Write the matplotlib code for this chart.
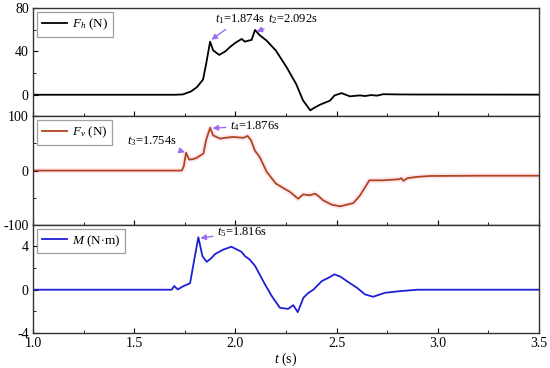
import matplotlib
matplotlib.use("Agg")
import matplotlib.pyplot as plt
from matplotlib.ticker import MultipleLocator

plt.rcParams["font.family"] = ["Liberation Serif", "DejaVu Serif"]
plt.rcParams["mathtext.fontset"] = "custom"
plt.rcParams["mathtext.rm"] = "Liberation Serif"
plt.rcParams["mathtext.it"] = "Liberation Serif:italic"
plt.rcParams["font.size"] = 10
plt.rcParams["axes.unicode_minus"] = False

# horizontal force F_h (N)
t_fh = [1.0, 1.70, 1.74, 1.78, 1.81, 1.84, 1.855, 1.875, 1.89, 1.92, 1.95, 1.973,
        2.0, 2.031, 2.047, 2.065, 2.08, 2.097, 2.12, 2.154, 2.2, 2.253, 2.30,
        2.334, 2.37, 2.39, 2.418, 2.44, 2.467, 2.49, 2.525, 2.545, 2.566, 2.59,
        2.616, 2.64, 2.67, 2.70, 2.73, 2.80, 2.9, 3.0, 3.5]
fh = [0, 0, 0.3, 3, 7, 14, 28, 49, 41, 36.8, 40, 44,
      48, 51.5, 49, 50, 50.6, 59.8, 55, 50, 40.8, 25.4, 10,
      -5.2, -14.4, -12, -9.2, -7.5, -5.5, -0.6, 1.5, 0, -1.5, -1.0,
      -0.6, -1.2, -0.3, -0.8, 0.5, 0.3, 0.2, 0.2, 0.1]

# vertical force F_v (N)
t_fv = [1.0, 1.735, 1.745, 1.756, 1.772, 1.79, 1.809, 1.842, 1.855, 1.875, 1.89,
        1.924, 1.96, 1.99, 2.04, 2.06, 2.077, 2.097, 2.12, 2.155, 2.20, 2.24,
        2.27, 2.31, 2.335, 2.368, 2.393, 2.41, 2.434, 2.476, 2.517, 2.583,
        2.616, 2.662, 2.73, 2.81, 2.82, 2.83, 2.85, 2.896, 2.96, 3.2, 3.5]
fv = [0, 0, 8, 32.8, 20.4, 21, 23.5, 31.5, 56, 79, 65,
      59, 61, 62, 60.5, 64, 56, 36.4, 25, -2.5, -24, -33,
      -39.5, -52, -44, -45.7, -42.6, -47, -55, -63, -66, -60,
      -45.7, -18, -18, -16, -14, -19, -14, -11.7, -10, -9.5, -9.5]

# moment M (N·m)
t_m = [1.0, 1.685, 1.698, 1.715, 1.74, 1.776, 1.797, 1.817, 1.837, 1.858, 1.88,
       1.90, 1.94, 1.98, 2.03, 2.047, 2.07, 2.097, 2.146, 2.18, 2.22, 2.26,
       2.286, 2.308, 2.336, 2.36, 2.385, 2.427, 2.46, 2.489, 2.52, 2.55, 2.60,
       2.64, 2.68, 2.74, 2.82, 2.9, 3.5]
m = [0, 0, 0.34, 0.02, 0.3, 0.6, 2.8, 4.84, 3.1, 2.57, 2.9,
     3.3, 3.7, 3.97, 3.5, 3.1, 2.8, 2.2, 0.5, -0.6, -1.67, -1.77,
     -1.43, -2.07, -0.74, -0.3, 0.0, 0.8, 1.1, 1.42, 1.2, 0.8, 0.19,
     -0.43, -0.65, -0.28, -0.12, 0.0, 0.0]

labels = ["$F_h$ (N)", "$F_v$ (N)", "$M$ (N$\\cdot$m)"]
colors = ["#000000", "#b0451e", "#1f1fd6"]
ylims = [(-20, 80), (-100, 100), (-4, 6)]
majors = [40, 100, 4]

fig, axes = plt.subplots(3, 1, figsize=(5.5, 3.68), dpi=100, sharex=True)
fig.subplots_adjust(left=0.06, right=0.98, top=0.978, bottom=0.095, hspace=0)

series = [(t_fh, fh), (t_fv, fv), (t_m, m)]
for i, (ax, (tt, yy), lab, c, yl, mj) in enumerate(zip(axes, series, labels, colors, ylims, majors)):
    if i == 1:
        # faint pink glow seen around the F_v trace
        ax.plot(tt, yy, color="#fde8f1", lw=4, zorder=1)
    ax.plot(tt, yy, color=c, lw=1.3, label=lab, zorder=2)
    ax.set_xlim(1.0, 3.5)
    ax.set_ylim(*yl)
    ax.yaxis.set_major_locator(MultipleLocator(mj))
    ax.yaxis.set_minor_locator(MultipleLocator(mj / 2))
    ax.xaxis.set_major_locator(MultipleLocator(0.5))
    ax.xaxis.set_minor_locator(MultipleLocator(0.25))
    ax.tick_params(which="both", direction="in", top=False, right=False, pad=3)
    ax.tick_params(which="major", length=3.5)
    ax.tick_params(which="minor", length=2)
    for s in ax.spines.values():
        s.set_color("#333333")
        s.set_linewidth(1.0)
    leg = ax.legend(loc="upper left", fancybox=False, edgecolor="#888888",
                    handlelength=1.9, borderpad=0.35, borderaxespad=0.3,
                    handletextpad=0.4, fontsize=9.5)
    leg.get_frame().set_linewidth(0.9)

axes[2].set_xlabel("$t$ (s)", labelpad=0)

arr = dict(arrowstyle="-|>", color="#9b6cf0", lw=1.0, mutation_scale=8,
           shrinkA=1, shrinkB=1)
fs = 9
axes[0].annotate("$t_1$=1.874s", xy=(1.876, 50), xytext=(1.90, 70),
                 arrowprops=arr, va="center", ha="left", fontsize=fs)
axes[0].annotate("$t_2$=2.092s", xy=(2.098, 58), xytext=(2.162, 70),
                 arrowprops=arr, va="center", ha="left", fontsize=fs)
axes[1].annotate("$t_3$=1.754s", xy=(1.757, 33), xytext=(1.465, 54),
                 arrowprops=arr, va="center", ha="left", fontsize=fs)
axes[1].annotate("$t_4$=1.876s", xy=(1.88, 78), xytext=(1.973, 83),
                 arrowprops=arr, va="center", ha="left", fontsize=fs)
axes[2].annotate("$t_5$=1.816s", xy=(1.82, 4.75), xytext=(1.909, 5.3),
                 arrowprops=arr, va="center", ha="left", fontsize=fs)

fig.savefig("out.png", dpi=100)
